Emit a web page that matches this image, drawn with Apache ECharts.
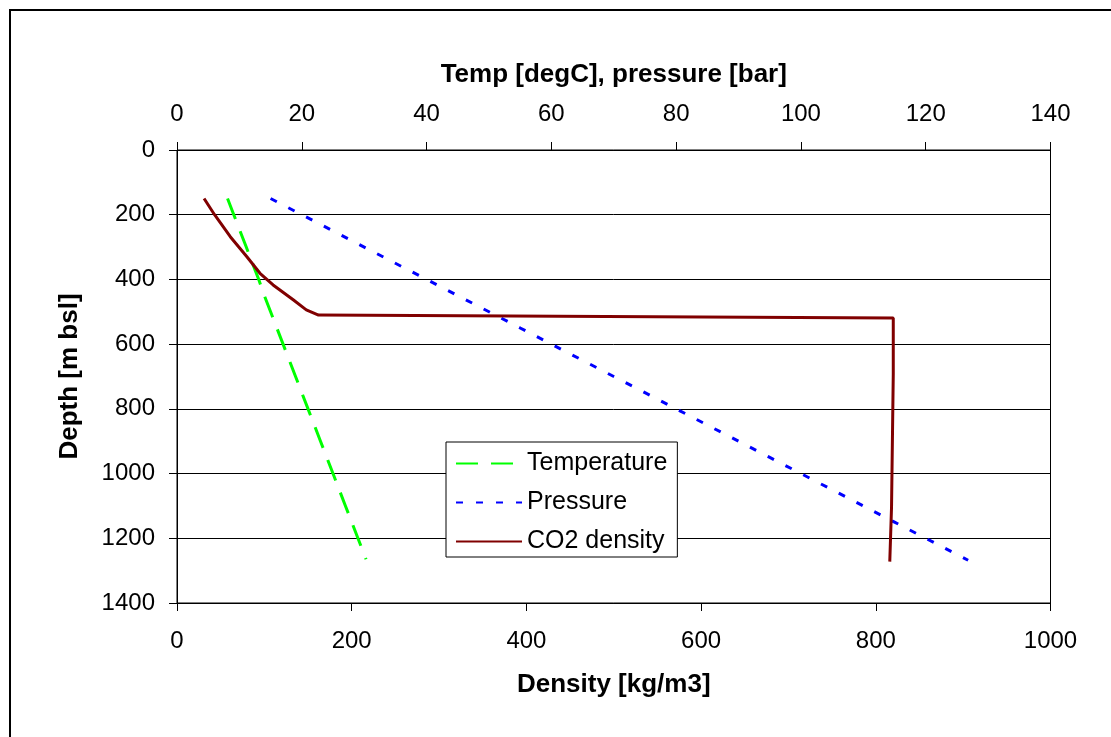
<!DOCTYPE html>
<html>
<head>
<meta charset="utf-8">
<script src="https://cdn.jsdelivr.net/npm/echarts@6/dist/echarts.min.js"></script>
<style>
html,body{margin:0;padding:0;background:#fff;}
#chart{width:1111px;height:737px;}
</style>
</head>
<body>
<div id="chart"></div>
<script>
// Temperature [degC] vs depth [m bsl] (top axis)
const tempDepth = [150, 200, 250, 300, 350, 400, 450, 500, 550, 600, 650, 700, 750, 800, 850, 900, 950, 1000, 1050, 1100, 1150, 1200, 1265];
const tempValues = [8.1, 9.1, 10.1, 11.1, 12.1, 13.1, 14.0, 15.0, 16.0, 17.0, 18.0, 19.0, 20.0, 21.0, 22.0, 23.0, 24.0, 25.0, 26.0, 27.0, 28.0, 29.0, 30.3];

// Pressure [bar] vs depth (top axis)
const presDepth = [150, 200, 250, 300, 350, 400, 450, 500, 550, 600, 650, 700, 750, 800, 850, 900, 950, 1000, 1050, 1100, 1150, 1200, 1250, 1268];
const presValues = [15.0, 20.0, 25.0, 30.0, 35.0, 40.0, 45.0, 50.0, 55.0, 60.0, 65.0, 70.0, 75.0, 80.0, 85.0, 90.0, 95.0, 100.0, 105.0, 110.0, 115.0, 120.0, 125.0, 126.8];

// CO2 density [kg/m3] vs depth (bottom axis)
const co2Depth = [150, 200, 268, 330, 381, 417, 463, 494, 510, 519, 692, 693, 1105, 1106, 1272];
const co2Values = [31, 43, 61, 80, 95, 110, 133, 148, 162, 820, 820, 818, 818, 816, 816];

const depthTicks = {min: 0, max: 1400, interval: 200};
const tempTicks = {min: 0, max: 140, interval: 20};
const densTicks = {min: 0, max: 1000, interval: 200};

const zip = (ys, xs) => xs.map((x, i) => [x, ys[i]]);
const plain = v => String(v);

const FONT = '"Liberation Sans", Arial, sans-serif';
const chart = echarts.init(document.getElementById('chart'), null, {renderer: 'canvas'});

const titleStyle = {fontFamily: FONT, fontSize: 26, fontWeight: 'bold', color: '#000'};
const labelStyle = {fontFamily: FONT, fontSize: 24, color: '#000', formatter: plain};

chart.setOption({
  animation: false,
  backgroundColor: '#fff',
  textStyle: {fontFamily: FONT, color: '#000'},
  graphic: [{
    type: 'rect',
    shape: {x: 10, y: 10, width: 1200, height: 800},
    style: {fill: 'none', stroke: '#000', lineWidth: 2},
    silent: true
  }],
  grid: {left: 177, top: 150, right: 60.5, bottom: 134, show: true, borderColor: '#000', borderWidth: 1, backgroundColor: 'transparent'},
  xAxis: [{
    type: 'value', position: 'bottom',
    min: densTicks.min, max: densTicks.max, interval: densTicks.interval,
    name: 'Density [kg/m3]', nameLocation: 'middle', nameGap: 69,
    nameTextStyle: titleStyle,
    axisLine: {show: true, onZero: false, lineStyle: {color: '#000', width: 1}},
    axisTick: {show: true, inside: false, length: 8, lineStyle: {color: '#000'}},
    axisLabel: Object.assign({margin: 26}, labelStyle),
    splitLine: {show: false}
  }, {
    type: 'value', position: 'top',
    min: tempTicks.min, max: tempTicks.max, interval: tempTicks.interval,
    name: 'Temp [degC], pressure [bar]', nameLocation: 'middle', nameGap: 62,
    nameTextStyle: titleStyle,
    axisLine: {show: true, onZero: false, lineStyle: {color: '#000', width: 1}},
    axisTick: {show: true, inside: false, length: 8, lineStyle: {color: '#000'}},
    axisLabel: Object.assign({margin: 24}, labelStyle),
    splitLine: {show: false}
  }],
  yAxis: [{
    type: 'value', inverse: true,
    min: depthTicks.min, max: depthTicks.max, interval: depthTicks.interval,
    name: 'Depth [m bsl]', nameLocation: 'middle', nameGap: 94, nameRotate: 90,
    nameTextStyle: titleStyle,
    axisLine: {show: true, onZero: false, lineStyle: {color: '#000', width: 1}},
    axisTick: {show: true, inside: false, length: 8, lineStyle: {color: '#000'}},
    axisLabel: Object.assign({margin: 22}, labelStyle),
    splitLine: {show: true, lineStyle: {color: '#000', width: 1}}
  }],
  legend: {
    orient: 'vertical', left: 446, top: 442,
    backgroundColor: '#fff', borderColor: '#000', borderWidth: 1,
    padding: [9, 10, 3, 9],
    itemWidth: 66, itemHeight: 24, itemGap: 14,
    itemStyle: {opacity: 0},
    textStyle: {fontFamily: FONT, fontSize: 25, color: '#000', lineHeight: 24},
    data: ['Temperature', 'Pressure', 'CO2 density']
  },
  series: [{
    name: 'Temperature', type: 'line', xAxisIndex: 1, yAxisIndex: 0,
    data: zip(tempDepth, tempValues), symbol: 'none', symbolSize: 0, showSymbol: false,
    lineStyle: {color: '#00ff00', width: 3, type: [22, 13]},
    itemStyle: {color: '#00ff00'}
  }, {
    name: 'Pressure', type: 'line', xAxisIndex: 1, yAxisIndex: 0,
    data: zip(presDepth, presValues), symbol: 'none', symbolSize: 0, showSymbol: false,
    lineStyle: {color: '#0000ff', width: 3, type: [7, 13]},
    itemStyle: {color: '#0000ff'}
  }, {
    name: 'CO2 density', type: 'line', xAxisIndex: 0, yAxisIndex: 0,
    data: zip(co2Depth, co2Values), symbol: 'none', symbolSize: 0, showSymbol: false,
    lineStyle: {color: '#800000', width: 3},
    itemStyle: {color: '#800000'}
  }]
});
</script>
</body>
</html>
